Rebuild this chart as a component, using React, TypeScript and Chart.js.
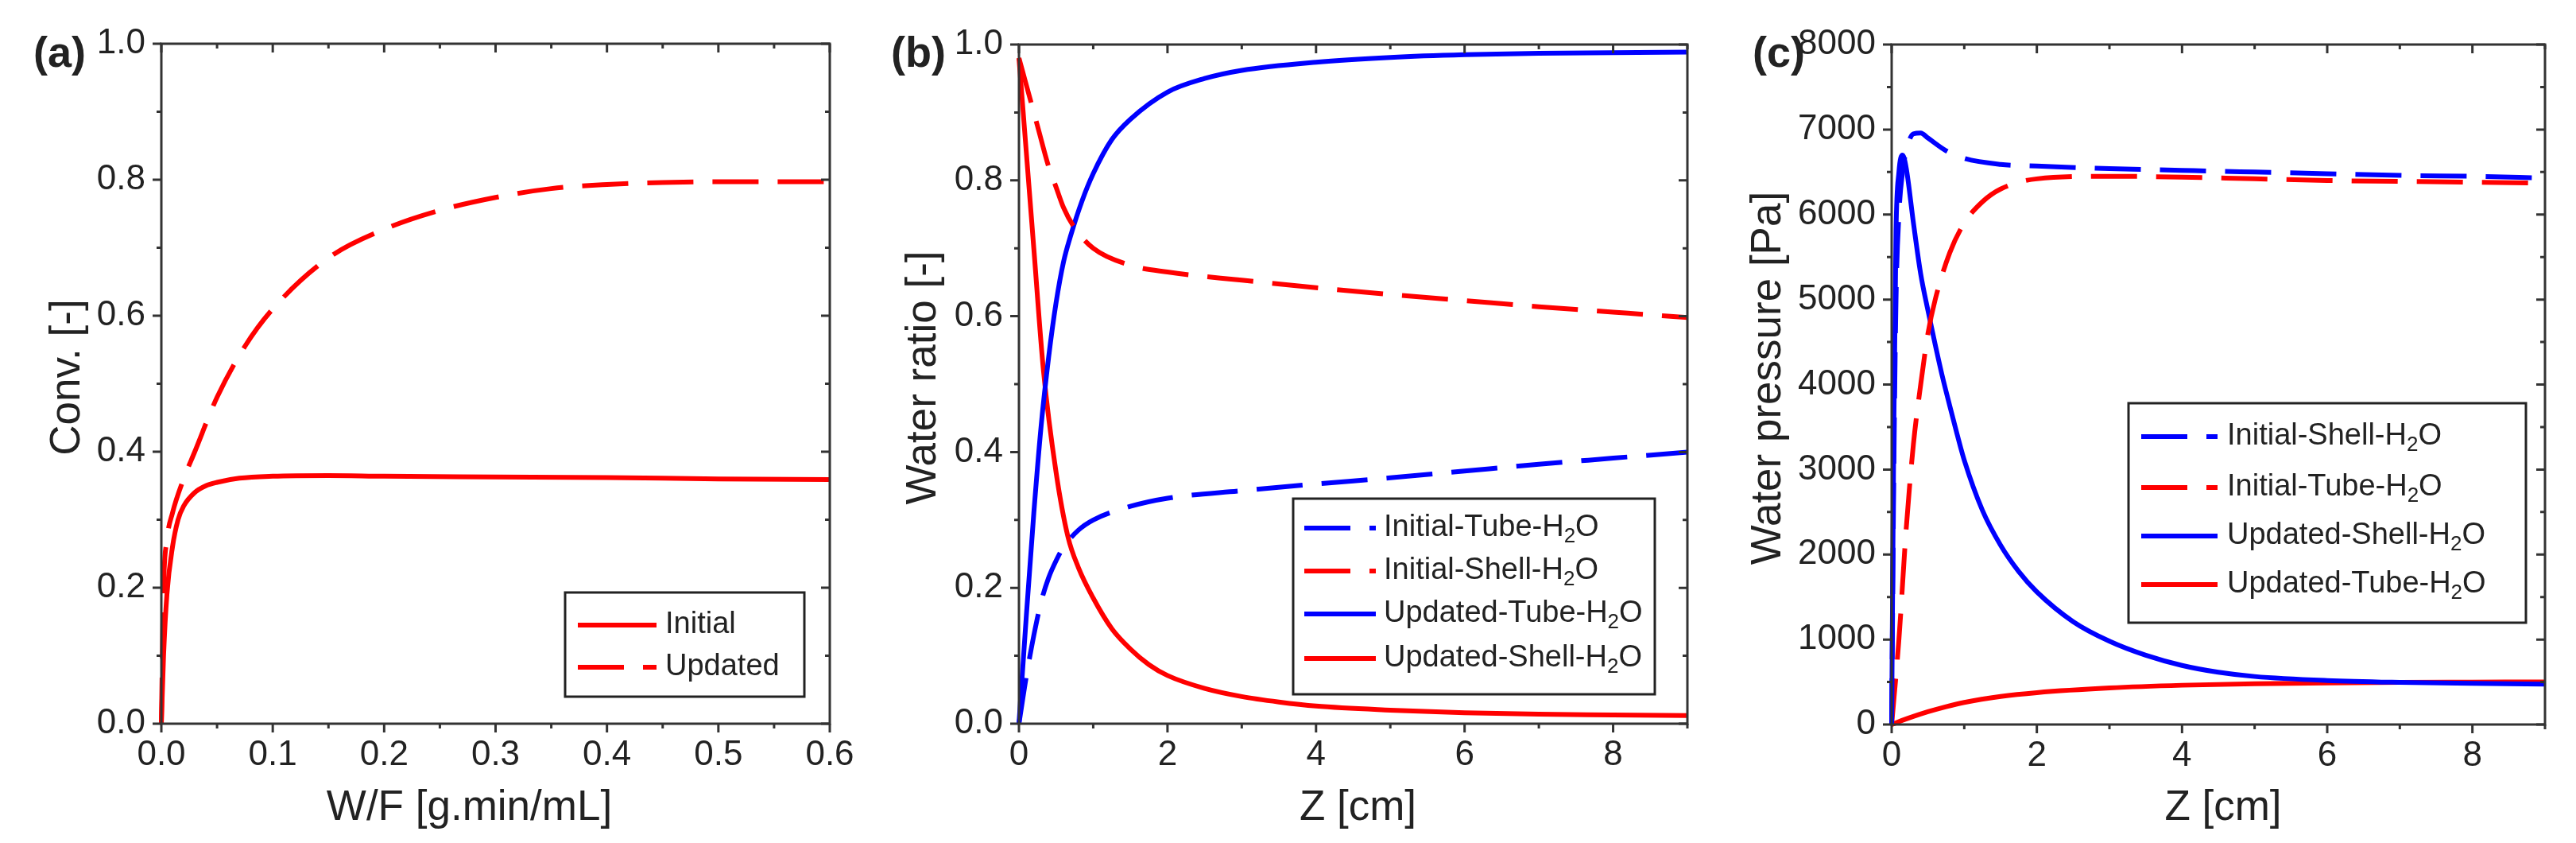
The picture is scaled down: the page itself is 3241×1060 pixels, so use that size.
import React, { useEffect, useRef } from 'react';
import { Chart, registerables } from 'chart.js';

Chart.register(...registerables);

const PAGE_W = 3241;
const PAGE_H = 1060;
const FONT = '"Liberation Sans", Arial, Helvetica, sans-serif';
const RED = '#ff0000';
const BLUE = '#0000ff';
const INK = '#222222';
const DASH = [58, 24];

// ---------------- Panel (a) ----------------
const A_X_TICKS = [0, 0.1, 0.2, 0.3, 0.4, 0.5, 0.6];
const A_X_MINOR = [0.05, 0.15, 0.25, 0.35, 0.45, 0.55];
const A_Y_TICKS = [0, 0.2, 0.4, 0.6, 0.8, 1.0];
const A_Y_MINOR = [0.1, 0.3, 0.5, 0.7, 0.9];
const A_INITIAL_X = [0, 0.002, 0.005, 0.01, 0.015, 0.02, 0.03, 0.04, 0.05, 0.07, 0.1, 0.15, 0.2, 0.3, 0.4, 0.5, 0.6];
const A_INITIAL_Y = [0, 0.10, 0.19, 0.26, 0.30, 0.32, 0.34, 0.35, 0.355, 0.361, 0.364, 0.365, 0.364, 0.363, 0.362, 0.360, 0.359];
const A_UPDATED_X = [0, 0.002, 0.005, 0.01, 0.02, 0.03, 0.05, 0.075, 0.1, 0.15, 0.2, 0.25, 0.3, 0.35, 0.4, 0.45, 0.5, 0.55, 0.6];
const A_UPDATED_Y = [0, 0.2, 0.27, 0.31, 0.36, 0.40, 0.48, 0.555, 0.61, 0.685, 0.727, 0.755, 0.774, 0.787, 0.793, 0.796, 0.797, 0.797, 0.797];

// ---------------- Panel (b) ----------------
const B_X_TICKS = [0, 2, 4, 6, 8];
const B_X_MINOR = [1, 3, 5, 7, 9];
const B_Y_TICKS = [0, 0.2, 0.4, 0.6, 0.8, 1.0];
const B_Y_MINOR = [0.1, 0.3, 0.5, 0.7, 0.9];
const B_IT_X = [0, 0.1, 0.2, 0.3, 0.4, 0.5, 0.6, 0.8, 1.0, 1.5, 2, 3, 4, 5, 6, 7, 8, 9];
const B_IT_Y = [0, 0.07, 0.13, 0.18, 0.215, 0.24, 0.26, 0.285, 0.3, 0.32, 0.332, 0.343, 0.353, 0.362, 0.372, 0.382, 0.391, 0.4];
const B_IS_X = [0, 0.1, 0.25, 0.4, 0.5, 0.6, 0.75, 1.0, 1.5, 2, 3, 4, 5, 6, 7, 8, 9];
const B_IS_Y = [0.98, 0.94, 0.88, 0.82, 0.79, 0.76, 0.73, 0.7, 0.675, 0.665, 0.653, 0.642, 0.632, 0.623, 0.614, 0.606, 0.598];
const B_UT_X = [0, 0.1, 0.2, 0.3, 0.4, 0.5, 0.6, 0.7, 0.85, 1.0, 1.25, 1.5, 2, 2.5, 3, 4, 5, 6, 7, 8, 9];
const B_UT_Y = [0, 0.16, 0.31, 0.44, 0.54, 0.62, 0.68, 0.72, 0.77, 0.81, 0.86, 0.89, 0.93, 0.95, 0.962, 0.974, 0.981, 0.985, 0.987, 0.988, 0.989];
const B_US_X = [0, 0.1, 0.2, 0.33, 0.5, 0.66, 0.8, 1.0, 1.25, 1.5, 1.75, 2, 2.5, 3, 3.5, 4, 5, 6, 7, 8, 9];
const B_US_Y = [0.98, 0.84, 0.70, 0.52, 0.37, 0.275, 0.23, 0.185, 0.14, 0.11, 0.087, 0.071, 0.052, 0.04, 0.032, 0.026, 0.02, 0.016, 0.014, 0.013, 0.012];

// ---------------- Panel (c) ----------------
const C_X_TICKS = [0, 2, 4, 6, 8];
const C_X_MINOR = [1, 3, 5, 7, 9];
const C_Y_TICKS = [0, 1000, 2000, 3000, 4000, 5000, 6000, 7000, 8000];
const C_Y_MINOR = [500, 1500, 2500, 3500, 4500, 5500, 6500, 7500];
const C_IS_X = [0, 0.03, 0.06, 0.1, 0.15, 0.2, 0.3, 0.4, 0.5, 0.75, 1.0, 1.5, 2, 3, 4, 5, 6, 7, 8, 9];
const C_IS_Y = [0, 3000, 5000, 6000, 6500, 6750, 6950, 6960, 6900, 6750, 6660, 6590, 6570, 6540, 6520, 6500, 6480, 6460, 6450, 6430];
const C_IT_X = [0, 0.1, 0.2, 0.3, 0.4, 0.5, 0.6, 0.8, 1.0, 1.25, 1.5, 2, 3, 4, 5, 6, 7, 8, 9];
const C_IT_Y = [0, 1000, 2300, 3300, 4000, 4600, 5000, 5550, 5900, 6150, 6300, 6420, 6450, 6440, 6420, 6400, 6390, 6380, 6370];
const C_US_X = [0, 0.03, 0.06, 0.1, 0.15, 0.2, 0.3, 0.4, 0.5, 0.6, 0.7, 0.8, 0.9, 1.0, 1.25, 1.5, 1.75, 2, 2.5, 3, 3.5, 4, 4.5, 5, 6, 7, 8, 9];
const C_US_Y = [0, 3500, 5800, 6500, 6700, 6550, 5900, 5300, 4870, 4470, 4090, 3750, 3420, 3110, 2520, 2110, 1800, 1560, 1210, 980, 815, 695, 615, 565, 518, 496, 484, 475];
const C_UT_X = [0, 0.25, 0.5, 0.75, 1.0, 1.5, 2, 3, 4, 5, 6, 7, 8, 9];
const C_UT_Y = [0, 80, 150, 210, 260, 330, 375, 430, 462, 480, 490, 496, 499, 500];

type Series = { label: string; x: number[]; y: number[]; color: string; dashed: boolean };

type PanelCfg = {
  tag: string;
  area: { left: number; top: number; right: number; bottom: number };
  xMin: number; xMax: number; yMin: number; yMax: number;
  xTicks: number[]; xMinor: number[]; yTicks: number[]; yMinor: number[];
  xDec: number; yDec: number;
  xTitle: string; yTitle: string;
  xTitleDx: number; yTitleOff: number; tagOff: number;
  series: Series[];
  legend: { x0: number; y0: number; x1: number; y1: number; rows: number[]; lineX0: number; lineX1: number; textX: number };
};

const PANELS: PanelCfg[] = [
  {
    tag: '(a)',
    area: { left: 203, top: 55, right: 1044, bottom: 910 },
    xMin: 0, xMax: 0.6, yMin: 0, yMax: 1.0,
    xTicks: A_X_TICKS, xMinor: A_X_MINOR, yTicks: A_Y_TICKS, yMinor: A_Y_MINOR,
    xDec: 1, yDec: 1,
    xTitle: 'W/F [g.min/mL]', yTitle: 'Conv. [-]',
    xTitleDx: -33, yTitleOff: 103, tagOff: 161,
    series: [
      { label: 'Initial', x: A_INITIAL_X, y: A_INITIAL_Y, color: RED, dashed: false },
      { label: 'Updated', x: A_UPDATED_X, y: A_UPDATED_Y, color: RED, dashed: true },
    ],
    legend: { x0: 711, y0: 745, x1: 1012, y1: 876, rows: [786, 839], lineX0: 727, lineX1: 826, textX: 837 },
  },
  {
    tag: '(b)',
    area: { left: 1282, top: 56, right: 2123, bottom: 910 },
    xMin: 0, xMax: 9, yMin: 0, yMax: 1.0,
    xTicks: B_X_TICKS, xMinor: B_X_MINOR, yTicks: B_Y_TICKS, yMinor: B_Y_MINOR,
    xDec: 0, yDec: 1,
    xTitle: 'Z [cm]', yTitle: 'Water ratio [-]',
    xTitleDx: 6, yTitleOff: 105, tagOff: 161,
    series: [
      { label: 'Initial-Tube-H2O', x: B_IT_X, y: B_IT_Y, color: BLUE, dashed: true },
      { label: 'Initial-Shell-H2O', x: B_IS_X, y: B_IS_Y, color: RED, dashed: true },
      { label: 'Updated-Tube-H2O', x: B_UT_X, y: B_UT_Y, color: BLUE, dashed: false },
      { label: 'Updated-Shell-H2O', x: B_US_X, y: B_US_Y, color: RED, dashed: false },
    ],
    legend: { x0: 1627, y0: 627, x1: 2082, y1: 873, rows: [664, 718, 772, 828], lineX0: 1641, lineX1: 1731, textX: 1741 },
  },
  {
    tag: '(c)',
    area: { left: 2380, top: 56, right: 3202, bottom: 911 },
    xMin: 0, xMax: 9, yMin: 0, yMax: 8000,
    xTicks: C_X_TICKS, xMinor: C_X_MINOR, yTicks: C_Y_TICKS, yMinor: C_Y_MINOR,
    xDec: 0, yDec: 0,
    xTitle: 'Z [cm]', yTitle: 'Water pressure [Pa]',
    xTitleDx: 6, yTitleOff: 140, tagOff: 175,
    series: [
      { label: 'Initial-Shell-H2O', x: C_IS_X, y: C_IS_Y, color: BLUE, dashed: true },
      { label: 'Initial-Tube-H2O', x: C_IT_X, y: C_IT_Y, color: RED, dashed: true },
      { label: 'Updated-Shell-H2O', x: C_US_X, y: C_US_Y, color: BLUE, dashed: false },
      { label: 'Updated-Tube-H2O', x: C_UT_X, y: C_UT_Y, color: RED, dashed: false },
    ],
    legend: { x0: 2678, y0: 507, x1: 3178, y1: 783, rows: [549, 613, 674, 735], lineX0: 2694, lineX1: 2790, textX: 2802 },
  },
];

const Y_AXIS_W = 180;
const X_AXIS_H = 60;
const TICK_FONT = 44;
const TITLE_FONT = 53;
const LEGEND_FONT = 38;
const SUB_FONT = 26;
const CURVE_W = 6;

function drawRichLabel(ctx: CanvasRenderingContext2D, text: string, x: number, y: number) {
  ctx.textAlign = 'left';
  ctx.textBaseline = 'middle';
  ctx.fillStyle = INK;
  const idx = text.indexOf('H2O');
  if (idx < 0) {
    ctx.font = `${LEGEND_FONT}px ${FONT}`;
    ctx.fillText(text, x, y);
    return;
  }
  const pre = text.slice(0, idx + 1);
  const post = text.slice(idx + 2);
  ctx.font = `${LEGEND_FONT}px ${FONT}`;
  ctx.fillText(pre, x, y);
  let cx = x + ctx.measureText(pre).width;
  ctx.font = `${SUB_FONT}px ${FONT}`;
  ctx.fillText('2', cx, y + 11);
  cx += ctx.measureText('2').width;
  ctx.font = `${LEGEND_FONT}px ${FONT}`;
  ctx.fillText(post, cx, y);
}

function makeDecorPlugin(cfg: PanelCfg) {
  return {
    id: 'decor',
    afterDraw(chart: any) {
      const ctx: CanvasRenderingContext2D = chart.ctx;
      const ca = chart.chartArea;
      const xs = chart.scales.x;
      const ys = chart.scales.y;
      ctx.save();
      ctx.setLineDash([]);
      ctx.strokeStyle = '#333333';
      ctx.lineWidth = 3;
      ctx.lineCap = 'butt';
      ctx.strokeRect(ca.left, ca.top, ca.right - ca.left, ca.bottom - ca.top);
      const MAJ = 11;
      const MIN = 6;
      ctx.beginPath();
      cfg.xTicks.forEach((v) => {
        const p = xs.getPixelForValue(v);
        ctx.moveTo(p, ca.bottom); ctx.lineTo(p, ca.bottom + MAJ);
        ctx.moveTo(p, ca.top); ctx.lineTo(p, ca.top + MAJ);
      });
      cfg.xMinor.forEach((v) => {
        const p = xs.getPixelForValue(v);
        ctx.moveTo(p, ca.bottom); ctx.lineTo(p, ca.bottom + MIN);
        ctx.moveTo(p, ca.top); ctx.lineTo(p, ca.top + MIN);
      });
      cfg.yTicks.forEach((v) => {
        const p = ys.getPixelForValue(v);
        ctx.moveTo(ca.left - MAJ, p); ctx.lineTo(ca.left, p);
        ctx.moveTo(ca.right - MAJ, p); ctx.lineTo(ca.right, p);
      });
      cfg.yMinor.forEach((v) => {
        const p = ys.getPixelForValue(v);
        ctx.moveTo(ca.left - MIN, p); ctx.lineTo(ca.left, p);
        ctx.moveTo(ca.right - MIN, p); ctx.lineTo(ca.right, p);
      });
      ctx.stroke();

      // axis titles
      ctx.fillStyle = INK;
      ctx.font = `${TITLE_FONT}px ${FONT}`;
      ctx.textAlign = 'center';
      ctx.textBaseline = 'alphabetic';
      ctx.fillText(cfg.xTitle, (ca.left + ca.right) / 2 + cfg.xTitleDx, 1031);
      ctx.save();
      ctx.translate(ca.left - cfg.yTitleOff, (ca.top + ca.bottom) / 2 - 8);
      ctx.rotate(-Math.PI / 2);
      ctx.fillText(cfg.yTitle, 0, 0);
      ctx.restore();

      // panel tag
      ctx.font = `bold 54px ${FONT}`;
      ctx.textAlign = 'left';
      ctx.fillText(cfg.tag, ca.left - cfg.tagOff, 84);

      // legend
      const lg = cfg.legend;
      ctx.fillStyle = '#ffffff';
      ctx.fillRect(lg.x0, lg.y0, lg.x1 - lg.x0, lg.y1 - lg.y0);
      ctx.strokeStyle = '#222222';
      ctx.lineWidth = 3;
      ctx.strokeRect(lg.x0, lg.y0, lg.x1 - lg.x0, lg.y1 - lg.y0);
      cfg.series.forEach((s, i) => {
        const y = lg.rows[i];
        ctx.strokeStyle = s.color;
        ctx.lineWidth = CURVE_W;
        ctx.setLineDash(s.dashed ? DASH : []);
        ctx.beginPath();
        ctx.moveTo(lg.lineX0, y);
        ctx.lineTo(lg.lineX1, y);
        ctx.stroke();
        ctx.setLineDash([]);
        drawRichLabel(ctx, s.label, lg.textX, y);
      });
      ctx.restore();
    },
  };
}

function Panel({ cfg }: { cfg: PanelCfg }) {
  const ref = useRef<HTMLCanvasElement>(null);
  useEffect(() => {
    const canvas = ref.current;
    if (!canvas) return;
    const a = cfg.area;
    const chart = new Chart(canvas, {
      type: 'line',
      data: {
        datasets: cfg.series.map((s) => ({
          label: s.label,
          data: s.x.map((xv, i) => ({ x: xv, y: s.y[i] })),
          borderColor: s.color,
          backgroundColor: s.color,
          borderWidth: CURVE_W,
          borderDash: s.dashed ? DASH : [],
          borderJoinStyle: 'round',
          pointRadius: 0,
          fill: false,
          cubicInterpolationMode: 'monotone',
          clip: false,
        })),
      },
      options: {
        animation: false,
        responsive: false,
        maintainAspectRatio: false,
        events: [],
        layout: {
          padding: {
            left: a.left - Y_AXIS_W,
            right: PAGE_W - a.right,
            top: a.top,
            bottom: PAGE_H - a.bottom - X_AXIS_H,
          },
        },
        plugins: { legend: { display: false }, tooltip: { enabled: false }, title: { display: false } },
        scales: {
          x: {
            type: 'linear',
            min: cfg.xMin,
            max: cfg.xMax,
            grid: { display: false, drawTicks: false },
            border: { display: false },
            ticks: {
              font: { family: FONT, size: TICK_FONT },
              color: INK,
              padding: 13,
              maxRotation: 0,
              autoSkip: false,
              callback: (v: any) => Number(v).toFixed(cfg.xDec),
            },
            afterBuildTicks: (s: any) => { s.ticks = cfg.xTicks.map((v) => ({ value: v })); },
            afterFit: (s: any) => { s.height = X_AXIS_H; },
          },
          y: {
            type: 'linear',
            min: cfg.yMin,
            max: cfg.yMax,
            grid: { display: false, drawTicks: false },
            border: { display: false },
            ticks: {
              font: { family: FONT, size: TICK_FONT },
              color: INK,
              padding: 20,
              autoSkip: false,
              callback: (v: any) => Number(v).toFixed(cfg.yDec),
            },
            afterBuildTicks: (s: any) => { s.ticks = cfg.yTicks.map((v) => ({ value: v })); },
            afterFit: (s: any) => { s.width = Y_AXIS_W; },
          },
        },
      } as any,
      plugins: [makeDecorPlugin(cfg)],
    });
    return () => chart.destroy();
  }, [cfg]);
  return (
    <canvas
      ref={ref}
      width={PAGE_W}
      height={PAGE_H}
      style={{ position: 'absolute', left: 0, top: 0, width: PAGE_W, height: PAGE_H }}
    />
  );
}

export default function App() {
  return (
    <div style={{ position: 'absolute', left: 0, top: 0, width: PAGE_W, height: PAGE_H, background: '#ffffff', overflow: 'hidden' }}>
      {PANELS.map((p) => (
        <Panel key={p.tag} cfg={p} />
      ))}
    </div>
  );
}
